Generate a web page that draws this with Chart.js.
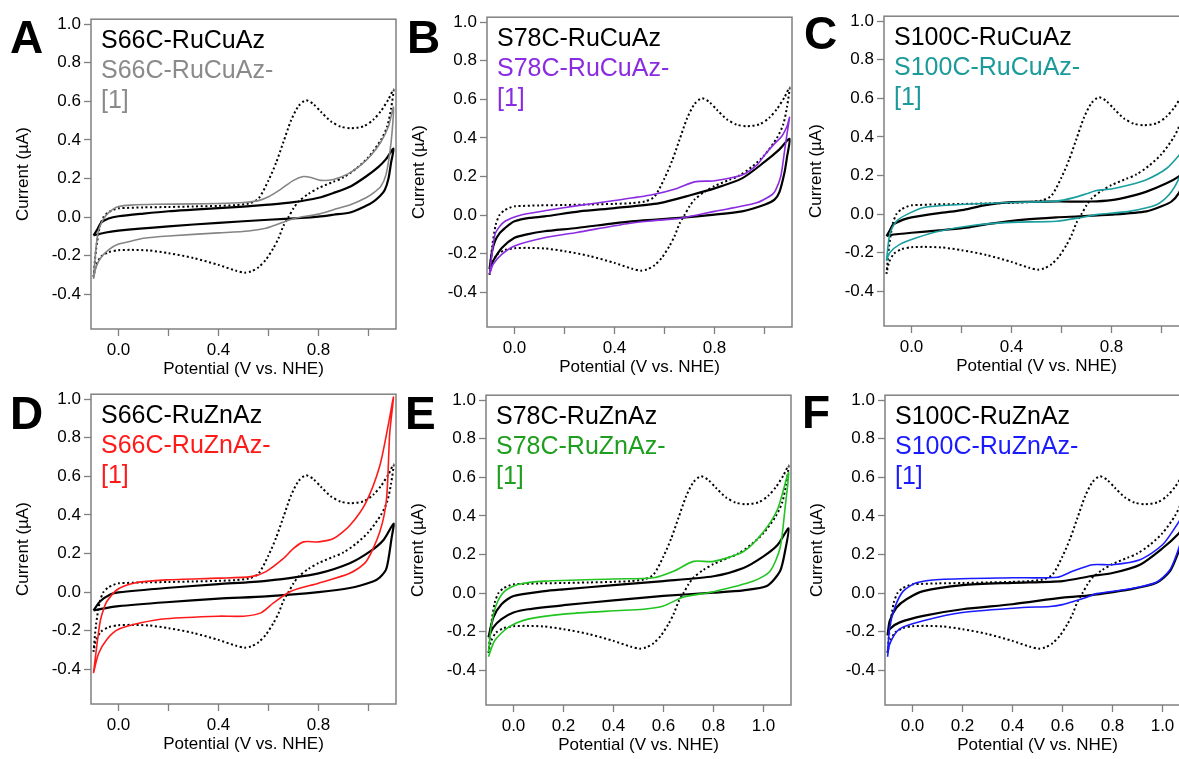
<!DOCTYPE html>
<html>
<head>
<meta charset="utf-8">
<script src="https://cdn.jsdelivr.net/npm/chart.js@4.4.1/dist/chart.umd.min.js"></script>
<style>
  html, body { margin: 0; padding: 0; background: #fff; overflow: hidden; width: 1179px; height: 759px; }
  body { position: relative; font-family: "Liberation Sans", Arial, sans-serif; }
  canvas { position: absolute; }
  .tag { position: absolute; font-weight: bold; font-size: 46px; line-height: 46px; color: #000; }
  .legend { position: absolute; font-size: 25px; line-height: 30px; white-space: nowrap; }
</style>
</head>
<body>
<script>
// Cyclic voltammograms: [potential (V vs. NHE), current (µA)] in scan order,
// anodic sweep from -0.1 V up to 1.1 V, then the cathodic sweep back.

// Complex [1] alone (dotted trace, shown in every panel)
const complex1 = [[-0.1,-0.31],[-0.09,-0.17],[-0.075,-0.05],[-0.06,0.0],[-0.04,0.025],[-0.02,0.037],[0,0.045],[0.1,0.05],[0.2,0.052],[0.3,0.055],[0.4,0.058],[0.47,0.062],[0.52,0.07],[0.56,0.095],[0.6,0.19],[0.63,0.28],[0.66,0.39],[0.69,0.5],[0.72,0.575],[0.75,0.605],[0.78,0.585],[0.81,0.545],[0.85,0.495],[0.89,0.468],[0.93,0.46],[0.98,0.47],[1.02,0.505],[1.05,0.55],[1.08,0.61],[1.1,0.66],
  [1.09,0.56],[1.075,0.47],[1.05,0.40],[1.0,0.31],[0.95,0.25],[0.9,0.205],[0.86,0.183],[0.8,0.15],[0.76,0.12],[0.72,0.08],[0.7,0.045],[0.68,0.0],[0.66,-0.045],[0.64,-0.11],[0.62,-0.16],[0.59,-0.22],[0.56,-0.26],[0.53,-0.282],[0.505,-0.288],[0.47,-0.278],[0.4,-0.248],[0.3,-0.212],[0.2,-0.187],[0.12,-0.173],[0.05,-0.17],[0,-0.172],[-0.04,-0.182],[-0.07,-0.205],[-0.09,-0.25],[-0.1,-0.31]];

// Cu azurins
const s66cCu = [[-0.1,-0.095],[-0.085,-0.065],[-0.07,-0.03],[-0.04,-0.008],[0,0.004],[0.1,0.018],[0.2,0.03],[0.3,0.038],[0.4,0.046],[0.5,0.054],[0.6,0.064],[0.7,0.077],[0.8,0.1],[0.86,0.125],[0.93,0.16],[0.99,0.21],[1.04,0.26],[1.07,0.3],[1.1,0.354],
  [1.09,0.28],[1.08,0.2],[1.065,0.14],[1.047,0.11],[1.02,0.08],[0.99,0.058],[0.93,0.025],[0.86,0.012],[0.8,0.002],[0.73,-0.005],[0.6,-0.014],[0.4,-0.03],[0.2,-0.048],[0,-0.07],[-0.05,-0.08],[-0.1,-0.095]];
const s66cCu1 = [[-0.1,-0.32],[-0.09,-0.16],[-0.08,-0.07],[-0.06,-0.01],[-0.04,0.022],[-0.02,0.042],[0,0.055],[0.05,0.062],[0.15,0.066],[0.3,0.068],[0.4,0.07],[0.5,0.075],[0.56,0.085],[0.6,0.105],[0.65,0.145],[0.7,0.19],[0.74,0.21],[0.77,0.205],[0.81,0.19],[0.86,0.195],[0.92,0.225],[0.97,0.27],[1.01,0.32],[1.05,0.39],[1.08,0.47],[1.1,0.57],
  [1.095,0.45],[1.085,0.33],[1.07,0.22],[1.05,0.16],[1.02,0.125],[0.99,0.1],[0.93,0.065],[0.86,0.038],[0.8,0.015],[0.73,0.0],[0.69,-0.013],[0.63,-0.04],[0.59,-0.058],[0.52,-0.072],[0.4,-0.082],[0.2,-0.098],[0.1,-0.11],[0.05,-0.125],[0,-0.14],[-0.04,-0.17],[-0.07,-0.21],[-0.09,-0.26],[-0.1,-0.32]];
const s78cCu = [[-0.1,-0.28],[-0.09,-0.19],[-0.078,-0.135],[-0.06,-0.095],[-0.038,-0.067],[-0.02,-0.048],[0,-0.032],[0.06,-0.015],[0.12,-0.007],[0.26,0.019],[0.4,0.036],[0.58,0.062],[0.71,0.105],[0.8,0.138],[0.91,0.19],[1.0,0.275],[1.06,0.34],[1.1,0.395],
  [1.09,0.3],[1.08,0.22],[1.06,0.12],[1.04,0.08],[1.0,0.053],[0.91,0.019],[0.8,0.002],[0.66,-0.015],[0.45,-0.035],[0.25,-0.067],[0.12,-0.084],[0.05,-0.1],[0,-0.118],[-0.05,-0.17],[-0.085,-0.237],[-0.1,-0.28]];
const s78cCu1 = [[-0.1,-0.306],[-0.09,-0.2],[-0.078,-0.1],[-0.06,-0.06],[-0.038,-0.032],[0,-0.01],[0.03,0.002],[0.12,0.022],[0.26,0.05],[0.4,0.075],[0.55,0.105],[0.65,0.138],[0.72,0.172],[0.8,0.178],[0.91,0.207],[0.97,0.26],[1.0,0.31],[1.04,0.37],[1.07,0.41],[1.09,0.46],[1.1,0.506],
  [1.09,0.42],[1.08,0.33],[1.065,0.2],[1.045,0.13],[1.03,0.105],[0.965,0.062],[0.8,0.019],[0.67,-0.015],[0.55,-0.03],[0.45,-0.045],[0.25,-0.09],[0.12,-0.118],[0,-0.16],[-0.05,-0.203],[-0.085,-0.254],[-0.1,-0.306]];
const s100cCu = [[-0.1,-0.114],[-0.087,-0.085],[-0.073,-0.054],[-0.033,-0.029],[0,-0.017],[0.11,0.005],[0.21,0.022],[0.29,0.045],[0.4,0.062],[0.58,0.065],[0.72,0.065],[0.8,0.072],[0.87,0.09],[0.94,0.116],[1.02,0.159],[1.07,0.195],[1.1,0.23],
  [1.09,0.17],[1.07,0.11],[1.04,0.065],[1.0,0.04],[0.94,0.014],[0.8,-0.003],[0.67,-0.012],[0.58,-0.017],[0.45,-0.029],[0.31,-0.051],[0.21,-0.072],[0.11,-0.085],[0,-0.097],[-0.087,-0.109],[-0.1,-0.114]];
const s100cCu1 = [[-0.1,-0.243],[-0.087,-0.106],[-0.06,-0.037],[-0.02,-0.003],[0.05,0.034],[0.18,0.048],[0.4,0.06],[0.58,0.067],[0.65,0.085],[0.7,0.105],[0.74,0.122],[0.8,0.13],[0.87,0.15],[0.94,0.178],[1.02,0.236],[1.07,0.305],[1.1,0.36],
  [1.09,0.27],[1.07,0.185],[1.03,0.1],[0.98,0.048],[0.87,0.014],[0.74,-0.003],[0.67,-0.02],[0.58,-0.037],[0.4,-0.043],[0.25,-0.058],[0.11,-0.089],[0.02,-0.123],[-0.047,-0.157],[-0.087,-0.2],[-0.1,-0.243]];

// Zn azurins
const s66cZn = [[-0.1,-0.095],[-0.073,-0.048],[-0.033,-0.013],[0,-0.002],[0.19,0.021],[0.4,0.041],[0.59,0.058],[0.8,0.097],[0.925,0.149],[1.005,0.209],[1.06,0.27],[1.1,0.354],
  [1.092,0.277],[1.072,0.123],[1.045,0.075],[1.018,0.055],[0.925,0.021],[0.8,0.0],[0.59,-0.022],[0.4,-0.034],[0.19,-0.053],[0,-0.073],[-0.05,-0.083],[-0.1,-0.095]];
const s66cZn1 = [[-0.1,-0.42],[-0.086,-0.27],[-0.073,-0.15],[-0.06,-0.09],[-0.046,-0.048],[-0.006,0.012],[0.06,0.046],[0.19,0.063],[0.4,0.072],[0.53,0.08],[0.59,0.106],[0.66,0.174],[0.7,0.226],[0.74,0.26],[0.8,0.26],[0.86,0.277],[0.925,0.345],[0.99,0.465],[1.045,0.653],[1.078,0.858],[1.1,1.01],
  [1.085,0.824],[1.072,0.482],[1.045,0.311],[0.99,0.157],[0.925,0.097],[0.8,0.046],[0.69,0.004],[0.62,-0.056],[0.57,-0.108],[0.5,-0.125],[0.4,-0.125],[0.19,-0.138],[0.09,-0.159],[0,-0.193],[-0.046,-0.244],[-0.08,-0.32],[-0.1,-0.42]];
const s78cZn = [[-0.1,-0.229],[-0.081,-0.127],[-0.048,-0.058],[0,-0.015],[0.125,0.01],[0.2,0.019],[0.4,0.041],[0.6,0.062],[0.8,0.087],[0.92,0.13],[1.0,0.19],[1.057,0.25],[1.1,0.335],
  [1.086,0.215],[1.066,0.113],[1.013,0.036],[0.92,0.014],[0.8,0.002],[0.6,-0.015],[0.4,-0.038],[0.2,-0.063],[0.058,-0.084],[0,-0.101],[-0.048,-0.135],[-0.081,-0.178],[-0.1,-0.229]];
const s78cZn1 = [[-0.1,-0.306],[-0.088,-0.161],[-0.068,-0.058],[-0.035,0.01],[0.018,0.044],[0.125,0.062],[0.4,0.073],[0.56,0.079],[0.64,0.113],[0.72,0.164],[0.8,0.164],[0.92,0.215],[1.0,0.318],[1.057,0.437],[1.1,0.626],
  [1.086,0.437],[1.066,0.232],[1.026,0.113],[0.96,0.062],[0.8,0.007],[0.68,-0.021],[0.6,-0.067],[0.52,-0.084],[0.4,-0.092],[0.2,-0.109],[0.058,-0.135],[-0.021,-0.178],[-0.075,-0.246],[-0.1,-0.33]];
const s100cZn = [[-0.1,-0.22],[-0.091,-0.144],[-0.064,-0.075],[-0.024,-0.032],[0.043,0.01],[0.2,0.041],[0.4,0.053],[0.6,0.062],[0.71,0.087],[0.8,0.104],[0.91,0.147],[1.0,0.232],[1.065,0.309],[1.1,0.37],
  [1.085,0.28],[1.065,0.215],[1.03,0.113],[0.976,0.053],[0.87,0.019],[0.736,-0.007],[0.7,-0.013],[0.6,-0.024],[0.4,-0.058],[0.2,-0.084],[0.043,-0.118],[-0.051,-0.152],[-0.091,-0.186],[-0.1,-0.22]];
const s100cZn1 = [[-0.1,-0.306],[-0.091,-0.178],[-0.071,-0.075],[-0.037,0.01],[0.016,0.053],[0.11,0.07],[0.4,0.079],[0.58,0.082],[0.64,0.113],[0.72,0.147],[0.8,0.147],[0.91,0.173],[1.0,0.25],[1.065,0.369],[1.1,0.45],
  [1.085,0.32],[1.065,0.232],[1.03,0.121],[0.976,0.056],[0.87,0.022],[0.736,-0.003],[0.7,-0.02],[0.64,-0.045],[0.6,-0.06],[0.55,-0.07],[0.44,-0.075],[0.2,-0.101],[0.043,-0.144],[-0.051,-0.186],[-0.091,-0.263],[-0.1,-0.33]];

// Axis ticks
const xTicks = [0, 0.2, 0.4, 0.6, 0.8, 1.0];
const yTicks = [-0.4, -0.2, 0, 0.2, 0.4, 0.6, 0.8, 1.0];

// Panel layout: plot-area corner, panel letter, traces and legend text
const panels = [
  { tag: 'A', left: 91,  top: 16,  tagPos: [10, 14],  black: s66cCu,  probe: s66cCu1,  line: '#858585', text: '#8a8a8a', names: ['S66C-RuCuAz', 'S66C-RuCuAz-', '[1]'], every: 0.4 },
  { tag: 'B', left: 487, top: 14,  tagPos: [407, 14], black: s78cCu,  probe: s78cCu1,  line: '#8a2be2', text: '#8a2be2', names: ['S78C-RuCuAz', 'S78C-RuCuAz-', '[1]'], every: 0.4 },
  { tag: 'C', left: 884, top: 13,  tagPos: [804, 10], black: s100cCu, probe: s100cCu1, line: '#1a9e9e', text: '#1a9a9a', names: ['S100C-RuCuAz', 'S100C-RuCuAz-', '[1]'], every: 0.4 },
  { tag: 'D', left: 91,  top: 391, tagPos: [10, 390], black: s66cZn,  probe: s66cZn1,  line: '#ff1a1a', text: '#ff1a1a', names: ['S66C-RuZnAz', 'S66C-RuZnAz-', '[1]'], every: 0.4 },
  { tag: 'E', left: 486, top: 392, tagPos: [405, 390], black: s78cZn, probe: s78cZn1,  line: '#22c422', text: '#1e9e1e', names: ['S78C-RuZnAz', 'S78C-RuZnAz-', '[1]'], every: 0.2 },
  { tag: 'F', left: 885, top: 392, tagPos: [802, 389], black: s100cZn, probe: s100cZn1, line: '#1a1aff', text: '#1a1aff', names: ['S100C-RuZnAz', 'S100C-RuZnAz-', '[1]'], every: 0.2 }
];

const PLOT_W = 305, PLOT_H = 313, AXIS_W = 91, AXIS_H = 52, PAD_T = 10, PAD_R = 6;
const FRAME = '#808080';
const FONT = '"Liberation Sans", Arial, sans-serif';

const framePlugin = {
  id: 'frame',
  afterDatasetsDraw(chart) {
    const { ctx, chartArea: a } = chart;
    ctx.save();
    ctx.strokeStyle = FRAME;
    ctx.lineWidth = 1.5;
    ctx.strokeRect(a.left, a.top, a.right - a.left, a.bottom - a.top);
    ctx.restore();
  }
};

const toPoints = arr => arr.map(([x, y]) => ({ x, y }));

function trace(points, color, width, dash) {
  return {
    data: toPoints(points), showLine: true, borderColor: color, borderWidth: width,
    borderDash: dash || [], pointRadius: 0, tension: 0.25, fill: false
  };
}

panels.forEach(p => {
  const cv = document.createElement('canvas');
  cv.width = AXIS_W + PLOT_W + PAD_R;
  cv.height = PAD_T + PLOT_H + AXIS_H;
  cv.style.left = (p.left - AXIS_W) + 'px';
  cv.style.top = (p.top - PAD_T) + 'px';
  document.body.appendChild(cv);

  new Chart(cv, {
    type: 'scatter',
    data: {
      datasets: [
        trace(p.probe, p.line, 1.6),
        trace(p.black, '#000', 2.2),
        trace(complex1, '#000', 2, [2, 2.6])
      ]
    },
    options: {
      responsive: false, animation: false, devicePixelRatio: 1,
      layout: { padding: { top: PAD_T, right: PAD_R, left: 0, bottom: 0 } },
      plugins: { legend: { display: false }, tooltip: { enabled: false } },
      scales: {
        x: {
          type: 'linear', min: -0.11, max: 1.11,
          afterBuildTicks: ax => { ax.ticks = xTicks.map(v => ({ value: v })); },
          afterFit: ax => { ax.height = AXIS_H; },
          ticks: {
            autoSkip: false, maxRotation: 0, padding: 4, color: '#000',
            font: { family: FONT, size: 17 },
            callback: v => (Math.round(v * 10) % Math.round(p.every * 10) === 0 ? v.toFixed(1) : '')
          },
          grid: { drawOnChartArea: false, tickLength: 7, tickColor: FRAME, tickWidth: 1.3 },
          border: { display: false },
          title: { display: true, text: 'Potential (V vs. NHE)', color: '#000', font: { family: FONT, size: 17 }, padding: { top: 0, bottom: 1 } }
        },
        y: {
          type: 'linear', min: -0.58, max: 1.025,
          afterBuildTicks: ax => { ax.ticks = yTicks.map(v => ({ value: v })); },
          afterFit: ax => { ax.width = AXIS_W; },
          ticks: {
            autoSkip: false, padding: 3, color: '#000',
            font: { family: FONT, size: 17 },
            callback: v => v.toFixed(1)
          },
          grid: { drawOnChartArea: false, tickLength: 7, tickColor: FRAME, tickWidth: 1.3 },
          border: { display: false },
          title: { display: true, text: 'Current (µA)', color: '#000', font: { family: FONT, size: 17 }, padding: { top: 13, bottom: 0 } }
        }
      }
    },
    plugins: [framePlugin]
  });

  const tag = document.createElement('div');
  tag.className = 'tag';
  tag.textContent = p.tag;
  tag.style.left = p.tagPos[0] + 'px';
  tag.style.top = p.tagPos[1] + 'px';
  document.body.appendChild(tag);

  const lg = document.createElement('div');
  lg.className = 'legend';
  lg.style.left = (p.left + 10) + 'px';
  lg.style.top = (p.top + 8) + 'px';
  p.names.forEach((t, i) => {
    const d = document.createElement('div');
    d.textContent = t;
    d.style.color = i === 0 ? '#000' : p.text;
    lg.appendChild(d);
  });
  document.body.appendChild(lg);
});
</script>
</body>
</html>
